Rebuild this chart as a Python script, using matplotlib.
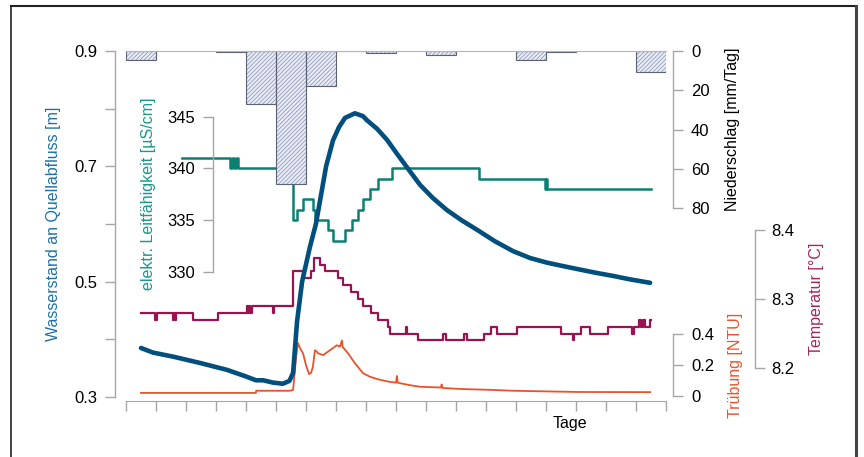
"""Quellabfluss-Ganglinie: Wasserstand, Niederschlag, Leitfähigkeit, Temperatur, Trübung."""
import numpy as np
import matplotlib
matplotlib.use("Agg")
import matplotlib.pyplot as plt
from matplotlib.lines import Line2D

plt.rcParams["font.family"] = ["Liberation Sans", "DejaVu Sans"]
plt.rcParams["font.size"] = 11.5
plt.rcParams["hatch.linewidth"] = 0.5
plt.rcParams["hatch.color"] = "#8890b0"

# --- Daten (x in Tagen) ---
rain_day = np.arange(18)
rain_mm = [4.6, 0, 0, 0.3, 27, 68, 17.6, 0.2, 1.2, 0, 2.0, 0, 0, 4.7, 0.5, 0, 0, 10.9]

level_t = [0.5, 0.9, 1.57, 2.47, 3.37, 4.03, 4.33, 4.57, 4.9, 5.23, 5.45, 5.57, 5.7,
           5.87, 6.13, 6.33, 6.5, 6.67, 6.9, 7.1, 7.3, 7.63, 7.9, 8.03, 8.37, 8.7,
           9.03, 9.37, 9.8, 10.23, 10.7, 11.2, 11.7, 12.3, 12.9, 13.47, 14.03, 14.57,
           15.13, 15.7, 16.23, 16.8, 17.47]
level_m = [0.385, 0.377, 0.370, 0.359, 0.347, 0.335, 0.329, 0.329, 0.325, 0.323, 0.328,
           0.342, 0.43, 0.50, 0.56, 0.60, 0.65, 0.70, 0.745, 0.768, 0.784, 0.792, 0.787,
           0.78, 0.765, 0.746, 0.722, 0.698, 0.668, 0.645, 0.624, 0.606, 0.59, 0.57,
           0.553, 0.541, 0.533, 0.527, 0.521, 0.515, 0.51, 0.504, 0.498]

cond_t = [1.87, 3.47, 3.53, 3.6, 3.67, 3.73, 3.8, 5.57, 5.7, 5.9, 6.23, 6.3, 6.73, 6.9,
          7.3, 7.53, 7.73, 7.9, 8.13, 8.4, 8.87, 11.77, 13.97, 14.0, 14.03, 17.5]
cond_v = [341, 340, 341, 340, 341, 340, 340, 335, 336, 337, 336, 335, 334, 333,
          334, 335, 336, 337, 338, 339, 340, 339, 338, 339, 338, 338]

temp_t = [0.5, 0.97, 1.03, 1.57, 1.6, 1.63, 1.67, 2.23, 2.83, 3.07, 4.03, 4.07, 4.1,
          4.13, 4.2, 4.9, 4.93, 5.57, 5.9, 6.17, 6.27, 6.47, 6.63, 7.07, 7.23, 7.5,
          7.73, 7.9, 8.17, 8.4, 8.73, 8.8, 9.32, 9.36, 9.73, 10.57, 10.67, 11.27,
          11.37, 11.93, 12.17, 12.37, 13.03, 14.5, 14.9, 14.94, 15.17, 15.47, 16.07,
          16.87, 16.93, 17.1, 17.17, 17.23, 17.3, 17.47, 17.5]
temp_c = [8.28, 8.27, 8.28, 8.27, 8.28, 8.27, 8.28, 8.27, 8.27, 8.28, 8.29, 8.28, 8.29,
          8.28, 8.29, 8.28, 8.29, 8.34, 8.33, 8.34, 8.36, 8.35, 8.34, 8.33, 8.32, 8.31,
          8.30, 8.29, 8.28, 8.27, 8.26, 8.25, 8.26, 8.25, 8.24, 8.25, 8.24, 8.25,
          8.24, 8.25, 8.26, 8.25, 8.26, 8.25, 8.24, 8.25, 8.26, 8.25, 8.26,
          8.25, 8.26, 8.27, 8.26, 8.27, 8.26, 8.27, 8.27]

turb_t = [0.5, 4.33, 4.34, 5.47, 5.57, 5.67, 5.73, 5.8, 5.9, 6.0, 6.1, 6.17, 6.23, 6.3,
          6.37, 6.4, 6.57, 6.8, 7.03, 7.13, 7.2, 7.22, 7.3, 7.4, 7.63, 7.9, 8.13, 8.37,
          8.7, 9.0, 9.03, 9.06, 9.47, 9.8, 10.5, 10.52, 10.55, 11.23, 12.13, 12.9,
          13.97, 15.13, 17.47]
turb_v = [0.02, 0.02, 0.034, 0.034, 0.04, 0.25, 0.344, 0.31, 0.277, 0.2, 0.142, 0.15,
          0.19, 0.297, 0.285, 0.277, 0.265, 0.297, 0.329, 0.32, 0.36, 0.318, 0.30,
          0.277, 0.213, 0.148, 0.125, 0.11, 0.095, 0.086, 0.13, 0.086, 0.07, 0.06,
          0.055, 0.075, 0.052, 0.045, 0.04, 0.034, 0.03, 0.026, 0.025]

# --- Farben ---
C_LEVEL, C_LEVEL_LBL = "#004f7d", "#1f6fa5"
C_COND, C_COND_LBL = "#0a8072", "#17998a"
C_TEMP, C_TEMP_LBL = "#9b1250", "#a8235e"
C_TURB = "#e9532c"
GRAY = "#a6a6a6"

W, H = 864, 457
fig = plt.figure(figsize=(W / 100, H / 100), dpi=100)


def box(top_px, bottom_px):
    return [126 / W, 1 - bottom_px / H, 540 / W, (bottom_px - top_px) / H]


def style(ax, side, outward=None, axes_pos=None, pad=5.5):
    for s in ax.spines.values():
        s.set_visible(False)
    sp = ax.spines[side]
    sp.set_visible(True)
    sp.set_color(GRAY)
    sp.set_linewidth(1)
    if outward is not None:
        sp.set_position(("outward", outward))
    if axes_pos is not None:
        sp.set_position(("axes", axes_pos))
    ax.yaxis.set_ticks_position(side)
    ax.yaxis.set_label_position(side)
    ax.tick_params(axis="y", colors=GRAY, labelcolor="black", length=7, width=1,
                   labelsize=12, pad=pad)
    ax.patch.set_alpha(0)
    ax.set_xlim(0, 18)
    ax.set_xticks([])


# Wasserstand (Hauptachse)
ax_w = fig.add_axes(box(51, 397))
style(ax_w, "left", outward=8)
ax_w.set_ylim(0.3, 0.9)
ax_w.set_yticks(np.arange(0.3, 0.91, 0.1))
ax_w.set_yticklabels(["0.3", "", "0.5", "", "0.7", "", "0.9"])
ax_w.spines["bottom"].set_visible(True)
ax_w.spines["bottom"].set_color(GRAY)
ax_w.spines["bottom"].set_position(("outward", 3))
ax_w.set_xticks(np.arange(0, 19))
ax_w.tick_params(axis="x", colors=GRAY, length=7, width=1, labelbottom=False)
ax_w.set_ylabel("Wasserstand an Quellabfluss [m]", color=C_LEVEL_LBL, labelpad=10)
ax_w.set_xlabel("Tage")
ax_w.xaxis.set_label_coords((570 - 126) / 540, -0.055)
ax_w.plot(level_t, level_m, color=C_LEVEL, lw=3.3, solid_capstyle="round",
          solid_joinstyle="round", zorder=5)
ax_w.set_zorder(4)

# Trübung
ax_n = fig.add_axes(box(334.3, 396))
style(ax_n, "right", outward=5, pad=6)
ax_n.set_ylim(0, 0.4)
ax_n.set_yticks([0, 0.2, 0.4])
ax_n.set_yticklabels(["0", "0.2", "0.4"])
ax_n.set_ylabel("Trübung [NTU]", color=C_TURB, labelpad=10)
ax_n.plot(turb_t, turb_v, color=C_TURB, lw=1.3, clip_on=False)
ax_n.set_zorder(1)

# Temperatur
ax_t = fig.add_axes(box(230, 368))
style(ax_t, "right", outward=64, pad=5)
ax_t.set_ylim(8.2, 8.4)
ax_t.set_yticks([8.2, 8.3, 8.4])
ax_t.set_ylabel("Temperatur [°C]", color=C_TEMP_LBL, labelpad=10)
ax_t.step(temp_t, temp_c, where="post", color=C_TEMP, lw=1.6, clip_on=False)
ax_t.set_zorder(2)

# Leitfähigkeit
ax_c = fig.add_axes(box(116.7, 271.7))
style(ax_c, "left", axes_pos=(213 - 126) / 540, pad=6)
ax_c.set_ylim(330, 345)
ax_c.set_yticks([330, 335, 340, 345])
ax_c.set_ylabel("elektr. Leitfähigkeit [µS/cm]", color=C_COND_LBL, labelpad=8)
ax_c.step(cond_t, cond_v, where="post", color=C_COND, lw=1.8, clip_on=False)
ax_c.set_zorder(3)

# Niederschlag
ax_p = fig.add_axes(box(51, 208))
style(ax_p, "right", outward=5, pad=6)
ax_p.set_ylim(80, 0)
ax_p.set_yticks([0, 20, 40, 60, 80])
ax_p.set_ylabel("Niederschlag [mm/Tag]", color="black", labelpad=11)
ax_p.spines["top"].set_visible(True)
ax_p.spines["top"].set_color("#b5b5b5")
rain = np.array(rain_mm)
wet = rain > 0
ax_p.bar(rain_day[wet], rain[wet], width=1, align="edge", color="#e8ebf6",
         hatch="////////", linewidth=0)
ax_p.bar(rain_day[wet], rain[wet], width=1, align="edge", fill=False,
         edgecolor="#5c6275", linewidth=0.8)
ax_p.set_zorder(6)

# Rahmen
frame = dict(transform=fig.transFigure, color="#222222")
fig.add_artist(Line2D([11 / W, 11 / W], [0, 1 - 6 / H], lw=1.2, **frame))
fig.add_artist(Line2D([11 / W, 856 / W], [1 - 6 / H, 1 - 6 / H], lw=1.5, **frame))
fig.add_artist(Line2D([856 / W, 856 / W], [0, 1 - 6 / H], lw=2.2, color="#444444",
                      transform=fig.transFigure))

fig.savefig("out.png", dpi=100)
